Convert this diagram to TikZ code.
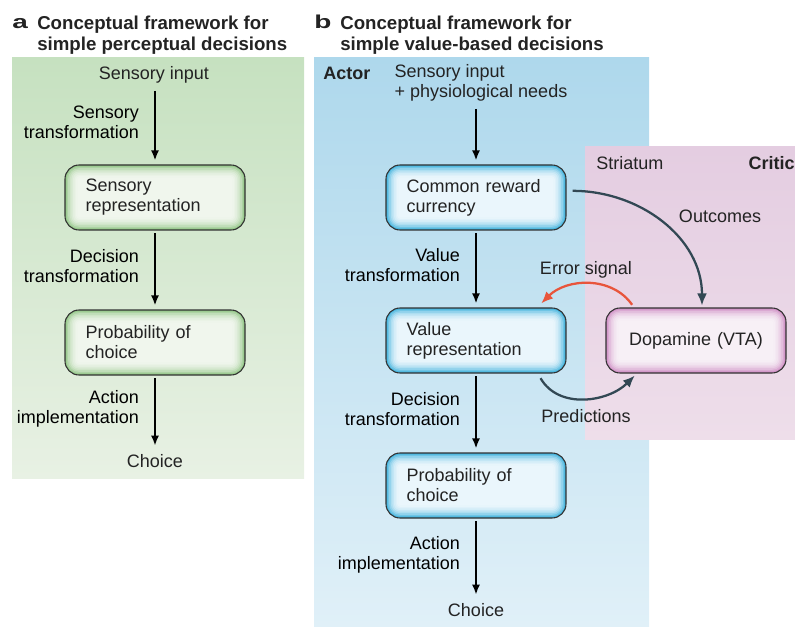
\documentclass[tikz,border=0pt]{standalone}
\usepackage{fontspec}
\setmainfont{Liberation Sans}
\usetikzlibrary{arrows,arrows.meta,calc,positioning}

\definecolor{greentop}{RGB}{198,225,192}
\definecolor{greenbot}{RGB}{232,241,228}
\definecolor{bluetop}{RGB}{174,216,236}
\definecolor{bluebot}{RGB}{224,240,248}
\definecolor{pinktop}{RGB}{228,205,225}
\definecolor{pinkbot}{RGB}{238,222,234}
\definecolor{greenedge}{RGB}{150,200,138}
\definecolor{greenin}{RGB}{240,246,237}
\definecolor{blueedge}{RGB}{70,180,222}
\definecolor{bluein}{RGB}{234,246,252}
\definecolor{pinkedge}{RGB}{208,145,198}
\definecolor{pinkin}{RGB}{247,240,246}
\definecolor{boxline}{RGB}{50,50,50}
\definecolor{slate}{RGB}{50,72,84}
\definecolor{errred}{RGB}{232,85,60}
\definecolor{txtgray}{RGB}{35,35,35}

\tikzset{
  glow/.style 2 args={path picture={
      \foreach \i in {0,...,9}{
        \pgfmathsetmacro\inset{1.2*\i}
        \pgfmathsetmacro\rad{max(10.5-\inset,1)}
        \pgfmathtruncatemacro\mixp{100*(1-\i/9)^2.4}
        \fill[#1!\mixp!#2, rounded corners=\rad pt]
          ([shift={(\inset pt,\inset pt)}]path picture bounding box.south west)
          rectangle ([shift={(-\inset pt,-\inset pt)}]path picture bounding box.north east);
      }}},
  box/.style={draw=boxline, line width=0.8pt, rounded corners=10.5pt, text width=104pt,
    inner xsep=15.5pt, inner ysep=0pt, minimum height=48.75pt, align=left},
  abox/.style={box, glow={greenedge}{greenin}},
  bbox/.style={box, glow={blueedge}{bluein}},
  cbox/.style={box, glow={pinkedge}{pinkin}, align=center},
  arr/.style={-{Latex[length=7.5pt,width=6pt]}, line width=1.4pt, black, shorten >=3pt, shorten <=2pt},
  carr/.style={-{Latex[length=9pt,width=7.5pt]}, line width=1.7pt, slate},
  earr/.style={-{Latex[length=9pt,width=7.5pt]}, line width=1.7pt, errred},
  lab/.style={left=8pt, align=right},
  title/.style={font=\fontsize{14}{15.5}\selectfont\bfseries, align=left, anchor=north west, inner sep=0pt},
  tag/.style={font=\fontsize{14}{15.5}\selectfont\bfseries, anchor=base west, inner sep=0pt},
}

\begin{document}
\begin{tikzpicture}[x=0.75pt,y=-0.75pt, font=\fontsize{13.5}{15}\selectfont, text=txtgray]
  \useasboundingbox (0,0) rectangle (795,627);

  % backgrounds
  \shade[top color=greentop, bottom color=greenbot] (12,58) rectangle (304,478);
  \shade[top color=bluetop, bottom color=bluebot] (314,58) rectangle (649,626);
  \shade[top color=pinktop, bottom color=pinkbot] (585,147) rectangle (795,439);

  % titles
  \node[tag] (taga) at (12,29) {\scalebox{1.5}[1]{a}};
  \node[title] (titlea) at (37,16) {Conceptual framework for\\simple perceptual decisions};
  \node[tag] (tagb) at (314,29) {\scalebox{1.5}[1]{b}};
  \node[title] (titleb) at (340,16) {Conceptual framework for\\simple value-based decisions};

  % panel a
  \node (ain) at (154,75) {Sensory input};
  \node[abox] (srep) at (155,197.5) {Sensory\\representation};
  \node[abox] (aprob) at (155,342.5) {Probability of\\choice};
  \node (achoice) at (155,461) {Choice};
  \draw[arr] (ain.south -| srep.north) -- (srep) node[lab, pos=0.45] {Sensory\\transformation};
  \draw[arr] (srep) -- (aprob) node[lab, pos=0.45] {Decision\\transformation};
  \draw[arr] (aprob) -- (achoice) node[lab, pos=0.45] {Action\\implementation};

  % panel b, actor
  \node[font=\fontsize{13.5}{15}\selectfont\bfseries, anchor=west, inner sep=0pt] (actor) at (323,73) {Actor};
  \node[align=left] (bin) at (481,83) {Sensory input\\+ physiological needs};
  \node[bbox] (cur) at (476,197.5) {Common reward\\currency};
  \node[bbox] (vrep) at (476,340.5) {Value\\representation};
  \node[bbox] (bprob) at (476,485.5) {Probability of\\choice};
  \node (bchoice) at (476,610) {Choice};
  \draw[arr] (bin.south -| cur.north) -- (cur);
  \draw[arr] (cur) -- (vrep) node[lab, pos=0.45] {Value\\transformation};
  \draw[arr] (vrep) -- (bprob) node[lab, pos=0.45] {Decision\\transformation};
  \draw[arr] (bprob) -- (bchoice) node[lab, pos=0.45] {Action\\implementation};

  % critic
  \node[anchor=west, inner sep=0pt] (striatum) at (596,163) {Striatum};
  \node[font=\fontsize{13.5}{15}\selectfont\bfseries, anchor=east, inner sep=0pt] (critic) at (795,163) {Critic};
  \node[cbox] (dop) at (696,340.5) {Dopamine (VTA)};

  \draw[carr] ([shift={(4.5pt,5pt)}]cur.east) to[out=0,in=90] ([xshift=4.5pt,yshift=1.5pt]dop.north);
  \node (outl) at (720,216) {Outcomes};
  \draw[earr] ([xshift=20pt,yshift=2pt]dop.north west) to[out=125,in=45] ([shift={(-19pt,3pt)}]vrep.north east);
  \node (errl) at (586,270) {Error signal};
  \draw[carr] ([shift={(-19.5pt,-3.5pt)}]vrep.south east) to[out=-60,in=-135] ([shift={(22pt,-1.5pt)}]dop.south west);
  \node (predl) at (586,416) {Predictions};
\end{tikzpicture}
\end{document}
